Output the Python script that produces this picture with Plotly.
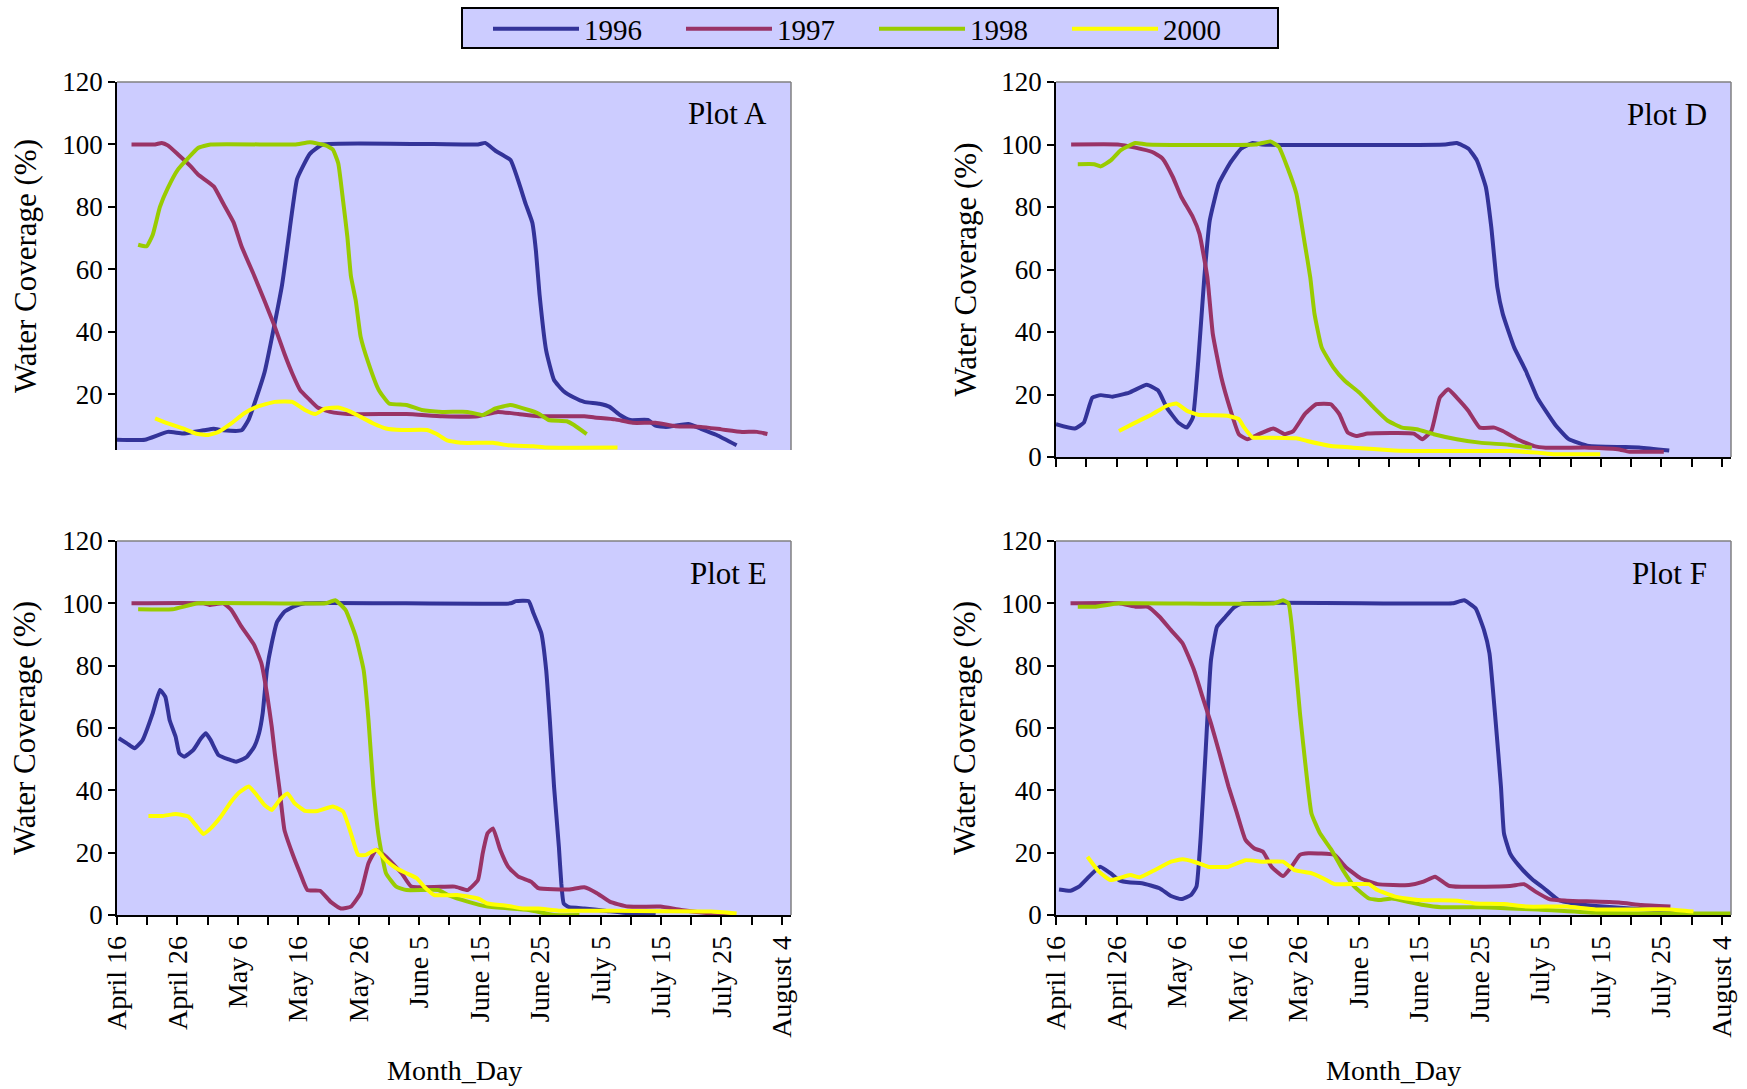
import plotly.graph_objects as go

# ---------------- data (days after April 16, water coverage %) ----------------
tick_days = list(range(0, 115, 5))
tick_labels = ["April 16", "", "April 26", "", "May 6", "", "May 16", "", "May 26", "",
               "June 5", "", "June 15", "", "June 25", "", "July 5", "", "July 15", "",
               "July 25", "", "August 4"]
years = ["1996", "1997", "1998", "2000"]
colors = ["#333399", "#993366", "#99CC00", "#FFFF00"]

# Plot A
A96_d = [0, 4.6, 8.4, 10.9, 14.3, 16, 17.6, 20.6, 21.8, 24.4, 27.3, 29, 29.8, 31.9, 34, 59.7, 60.9, 62.6, 65.1, 67.6, 68.7, 69.3, 69.9, 71, 72.3, 73.9, 75.6, 77.3, 79.8, 81.5, 83.2, 84.9, 87.8, 89.1, 90.8, 94.5, 96.6, 99.2, 102.5]
A96_v = [5.5, 5.5, 8, 7.5, 8.5, 9, 8.5, 8.5, 12, 27, 55, 79, 89, 97, 100, 100, 100.5, 98, 95, 81, 75, 66, 52, 34, 24.6, 21, 19, 17.6, 17, 16, 13.4, 11.8, 11.8, 10, 9.6, 10.5, 9, 7, 3.7]
A97_d = [2.4, 6.3, 7.4, 8.4, 10.1, 12.2, 13.4, 16, 17.6, 19.3, 20.6, 22.7, 24.4, 26.1, 27.7, 29, 30.3, 31.9, 33.2, 35.3, 38.2, 47.9, 53.8, 59.7, 63, 66.4, 69.7, 77.3, 79, 82.4, 85.3, 89.1, 92.4, 96.6, 100, 103.4, 105.9, 107.6]
A97_v = [100, 100, 100.5, 99.7, 96.8, 93, 90.4, 86.6, 81, 75, 67.4, 58, 50, 41.7, 33, 26.7, 21.4, 18.2, 15.8, 14.4, 13.7, 13.7, 13, 13, 14.4, 13.7, 13, 13, 12.6, 12, 10.9, 10.9, 9.8, 9.6, 8.8, 8, 8, 7.3]
A98_d = [3.5, 4.9, 5.9, 7.1, 8.4, 10.1, 11.8, 13.4, 15.5, 29.4, 31.9, 34.5, 35.7, 36.6, 37.4, 38.1, 38.7, 39.5, 40.3, 41.6, 43.3, 45, 47.9, 50.4, 53.8, 58, 60.5, 62.6, 65.1, 68.1, 69.7, 71.4, 74.4, 75.6, 77.7]
A98_v = [67.9, 67.4, 71, 80, 86, 92, 95.7, 98.9, 100, 100, 100.7, 99.7, 98.4, 94, 82, 70.6, 57.8, 50, 38.5, 30, 21.4, 17.1, 16.6, 15, 14.4, 14.4, 13.4, 15.5, 16.6, 15, 13.9, 11.8, 11.4, 10.2, 7.3]
A00_d = [6.3, 8.4, 10.9, 13, 15.1, 16.8, 18.9, 21, 23.1, 26.1, 29, 31.1, 32.8, 34.5, 36.6, 38.7, 40.3, 42.4, 44.5, 47.1, 51.3, 52.9, 54.6, 57.1, 62.2, 64.7, 68.9, 71, 82.8]
A00_v = [12.3, 10.7, 9.1, 7.5, 7, 8, 10.7, 13.9, 16, 17.6, 17.6, 15, 13.7, 15.5, 15.8, 14.4, 12.8, 10.7, 9.1, 8.6, 8.6, 7.3, 5.3, 4.5, 4.5, 3.7, 3.4, 3, 3]

# Plot D
D96_d = [0, 3.1, 4.6, 6, 7.4, 9.3, 12.1, 15, 16.9, 18.3, 20.2, 21.6, 22.6, 23.5, 24.5, 25.4, 26.9, 28.7, 30.6, 32.5, 34, 64.3, 66.2, 68.1, 69.5, 71, 71.9, 72.9, 73.8, 75.7, 77.6, 79.5, 82.4, 84.7, 88, 93.7, 96.6, 101.3]
D96_v = [10.5, 9.1, 11, 19, 19.8, 19.3, 20.6, 23.1, 21.2, 15.8, 11, 9.4, 12.6, 30.8, 57.5, 75.7, 87.5, 93.9, 98.7, 100.5, 100, 100, 100.5, 98.7, 95, 86.4, 73.6, 54.3, 45.8, 35, 27.6, 19, 10.5, 5.7, 3.5, 3.2, 3, 2.1]
D97_d = [2.5, 10.2, 13.1, 15.9, 17.6, 19.3, 20.7, 22.6, 23.7, 25, 25.9, 27.3, 28.7, 30.2, 31.6, 33.5, 35.9, 37.8, 39.2, 41.1, 43, 45.4, 46.8, 48.2, 49.6, 51.5, 59.1, 60.5, 62, 63.4, 64.8, 66.2, 68.1, 70, 72.4, 73.8, 76.2, 79, 80.9, 88, 92.8, 94.7, 100.4]
D97_v = [100, 100, 99, 97.6, 95.5, 89.6, 83.2, 76.8, 71.4, 57.5, 39.4, 25.5, 15.8, 7.3, 5.7, 7.3, 9.1, 7.3, 8.3, 13.7, 16.9, 16.9, 13.7, 7.8, 6.7, 7.5, 7.5, 5.7, 8.3, 19, 21.7, 19, 14.8, 9.4, 9.4, 8.3, 5.7, 3.5, 3, 3, 2.5, 1.7, 1.7]
D98_d = [3.6, 6.3, 7.4, 9.1, 10.7, 13.1, 15, 33, 35.4, 36.8, 38.2, 39.7, 41.1, 42, 42.7, 43.9, 45.8, 47.7, 50.1, 52.5, 54.8, 57.2, 59.6, 62.4, 66.2, 70, 74.8, 78.6]
D98_v = [93.7, 93.7, 93, 95, 98.2, 100.5, 100, 100, 101, 99.3, 92.8, 84.3, 68.2, 57.5, 45.8, 35, 28.7, 24.4, 20.6, 15.8, 11.6, 9.4, 8.9, 7.3, 5.7, 4.6, 3.9, 3]
D00_d = [10.4, 13.1, 15.9, 18.3, 19.9, 21.6, 23.5, 28.3, 30.2, 31.1, 32.5, 34, 39.7, 41.5, 45.4, 49.1, 55.8, 60.5, 74.8, 79.5, 82.4, 89.9]
D00_v = [8.3, 11, 13.7, 16.4, 17.1, 14.8, 13.5, 13.2, 12.1, 9.4, 6.2, 6.2, 6, 5.1, 3.5, 3, 2.1, 1.9, 1.9, 1.4, 0.9, 0.9]

# Plot E
E96_d = [0.3, 1.7, 2.9, 4.2, 5.9, 7.1, 8, 8.7, 9.7, 10.3, 11.1, 12.6, 13.9, 14.7, 15.5, 16.8, 18.5, 19.7, 21.4, 22.7, 23.5, 24.1, 24.8, 25.6, 26.5, 27.7, 29.4, 31.1, 65.1, 66, 68.1, 68.9, 70.2, 71, 71.6, 72.3, 73.1, 73.5, 73.9, 74.8, 77.3, 80.7, 84.9, 89.1]
E96_v = [56.7, 55, 53.5, 56, 64.7, 72.2, 70, 62.6, 57.2, 51.9, 50.8, 52.9, 56.7, 58.3, 56.1, 51.3, 49.9, 49.2, 50.6, 54, 58.3, 64.7, 78.6, 87.2, 94.1, 97.3, 99.1, 100, 100, 100.7, 100.7, 96.8, 90.4, 78.6, 62.6, 41.2, 21.9, 10.2, 3.7, 2.5, 2.1, 1.4, 0.5, 0]
E97_d = [2.4, 14.3, 15.3, 17.6, 18.9, 20.6, 22.7, 23.9, 24.8, 25.6, 26.1, 26.9, 27.7, 29, 30.3, 31.5, 33.6, 35.3, 37, 38.7, 40.3, 41.6, 42.9, 44.5, 47.1, 48.7, 55.9, 58, 59.7, 60.5, 61.3, 62.2, 63.4, 64.7, 66.4, 68.5, 69.7, 74.8, 77.3, 79.4, 81.5, 84.5, 89.9, 93.3, 98.3, 101.7]
E97_v = [100, 100, 99.5, 100, 97.9, 92.5, 86.6, 80.7, 71.1, 60.4, 51.9, 40.1, 27.3, 19.8, 13.4, 8, 7.8, 4.3, 2.1, 2.7, 7, 16.6, 20.9, 18.7, 13.4, 9.1, 9.1, 8, 11.2, 19.8, 26.2, 27.8, 20.9, 15.5, 12.3, 10.7, 8.6, 8.2, 8.9, 7, 4.3, 2.7, 2.7, 1.6, 0.5, 0.2]
E98_d = [3.5, 9.2, 13.4, 34.5, 36.1, 37.8, 39.5, 40.8, 41.6, 42.4, 43.3, 44.5, 46.2, 47.9, 53.1, 54.8, 58, 61.3, 68.1, 72.3, 76.5]
E98_v = [98.1, 98.1, 100, 100, 101, 97.9, 89.3, 78.6, 62.6, 41.2, 25.1, 13.4, 9.1, 8, 8, 6.4, 4.3, 2.7, 1.6, 0, 0]
E00_d = [5.2, 7.6, 9.7, 11.8, 13, 14.3, 15.5, 17.2, 18.9, 20.2, 21.8, 23.1, 24.4, 25.6, 26.9, 28.2, 29.4, 31.1, 33.2, 35.7, 37.4, 38.7, 39.9, 41.2, 42.9, 44.5, 46.2, 47.9, 49.6, 50.8, 52.5, 56.3, 59.7, 61.3, 64.7, 67.2, 69.7, 73.1, 81.5, 89.9, 98.3, 102.5]
E00_v = [31.8, 31.8, 32.4, 31.6, 28.9, 26, 27.8, 31.6, 36.4, 39.3, 41.2, 38.5, 35.3, 33.7, 36.9, 39, 35.8, 33.4, 33.4, 34.8, 33.2, 26.2, 19.3, 19.3, 20.9, 17.6, 15, 13.4, 11.8, 9.1, 6.4, 6.4, 5.3, 3.7, 2.9, 2.1, 2.1, 1.4, 1.4, 1.2, 1.1, 0.5]

# Plot F
F96_d = [0.5, 2.4, 3.8, 5.7, 7.3, 9, 10.4, 12.3, 14.2, 17.1, 19, 20.7, 22.3, 23.2, 23.9, 24.7, 25.6, 26.6, 28, 29.4, 30.8, 65.5, 67.4, 69.3, 70.7, 71.6, 72.6, 73.5, 74, 75, 76.4, 78.7, 80.6, 83, 85.4, 89.2, 94.9, 98.7, 103.4]
F96_v = [8.2, 7.8, 9.1, 12.8, 15.5, 13.4, 11.2, 10.4, 10.2, 8.6, 6.1, 5.1, 6.4, 9.1, 25.1, 51.9, 81.8, 92.5, 95.7, 98.7, 100, 100, 101, 98.4, 91.4, 84, 62.6, 41.2, 26.2, 19.8, 16, 11.4, 8.6, 4.8, 3.7, 2.9, 2.1, 1.6, 1.1]
F97_d = [2.4, 10.4, 13.3, 15.2, 17.1, 19, 20.9, 22.8, 24.2, 25.6, 27, 28.5, 29.9, 31.3, 32.7, 34.2, 35.6, 37.5, 38.9, 40.3, 41.7, 46, 47.8, 50.3, 53.1, 58.3, 60.7, 62.6, 65, 75, 77.3, 79.2, 81.6, 84.4, 93, 96.7, 101.5]
F97_v = [100, 100, 98.9, 98.9, 95.7, 91.4, 87.2, 78.6, 70, 61.5, 51.9, 41.2, 32.6, 24.1, 21.4, 20.3, 15.5, 12.5, 15.5, 19.3, 19.8, 19.3, 15.5, 11.8, 9.9, 9.6, 10.7, 12.3, 9.3, 9.3, 9.9, 7.5, 5, 4.6, 4, 3.2, 2.7]
F98_d = [3.6, 6.6, 10.4, 36.1, 37.5, 38.4, 39.4, 40.3, 41.3, 42.2, 43.6, 45.5, 47.4, 49.3, 51.7, 53.6, 55.5, 57.9, 60.7, 63.6, 70.2, 75, 79.7, 89.2, 98.7, 111.5]
F98_v = [98.9, 98.9, 100, 100, 101, 100, 84, 64.7, 46.5, 32.6, 26.2, 20.9, 14.4, 9.1, 5.3, 4.8, 5.3, 4.3, 3.2, 2.5, 2.5, 2.1, 1.8, 0.7, 0.5, 0.5]
F00_d = [5.2, 7.1, 9, 10.4, 12.3, 13.8, 16.1, 19, 20.9, 22.8, 25.1, 28.5, 31.3, 34.2, 37.5, 39.4, 42.2, 44.1, 46, 51.7, 53.1, 56, 59.8, 66.4, 69.3, 74, 77.8, 84.4, 89.2, 101.5, 105.3]
F00_v = [18.7, 13.9, 11.2, 11.8, 12.8, 12.1, 14.2, 17.1, 17.9, 17.1, 15.5, 15.5, 17.6, 17.1, 17.1, 14.4, 13.4, 11.8, 9.9, 9.9, 8, 5.9, 4.8, 4.6, 3.7, 3.5, 2.7, 2.7, 1.8, 1.8, 1.1]

plots = [
    ("Plot A", [(A96_d, A96_v), (A97_d, A97_v), (A98_d, A98_v), (A00_d, A00_v)]),
    ("Plot D", [(D96_d, D96_v), (D97_d, D97_v), (D98_d, D98_v), (D00_d, D00_v)]),
    ("Plot E", [(E96_d, E96_v), (E97_d, E97_v), (E98_d, E98_v), (E00_d, E00_v)]),
    ("Plot F", [(F96_d, F96_v), (F97_d, F97_v), (F98_d, F98_v), (F00_d, F00_v)]),
]

# ---------------- layout ----------------
W, H = 1747, 1089
FONT = "Liberation Serif, Times New Roman, serif"
BG = "#CCCCFF"

def px_x(a, b):
    return [a / W, b / W]

def px_y(top, bottom):
    return [1 - bottom / H, 1 - top / H]

# (x domain, y domain, y range, show x ticks, show x labels, y-title x pixel)
domains = [
    (px_x(117, 791), px_y(82, 450), [2.2, 120], False, False, 25),
    (px_x(1056, 1731), px_y(82, 457), [0, 120], True, False, 965),
    (px_x(117, 791), px_y(541, 915), [0, 120], True, True, 25),
    (px_x(1056, 1731), px_y(541, 915), [0, 120], True, True, 965),
]

fig = go.Figure()
layout = dict(
    width=W, height=H,
    margin=dict(l=0, r=0, t=0, b=0, autoexpand=False),
    paper_bgcolor="white",
    font=dict(family=FONT, color="black", size=24),
    showlegend=True,
    legend=dict(
        orientation="h", x=488 / W, xanchor="left", y=1 - 29 / H, yanchor="middle",
        bgcolor="rgba(0,0,0,0)", borderwidth=0,
        font=dict(family=FONT, size=29, color="black"),
        entrywidth=92, entrywidthmode="pixels",
        itemwidth=86,
    ),
)
# legend frame
shapes = [dict(type="rect", xref="paper", yref="paper",
               x0=462 / W, x1=1278 / W, y0=1 - 48 / H, y1=1 - 8 / H,
               fillcolor=BG, line=dict(color="black", width=2), layer="below")]
annotations = []

for i, (label, series) in enumerate(plots):
    n = "" if i == 0 else str(i + 1)
    xdom, ydom, yr, show_ticks, show_labels, ytx = domains[i]
    for j, (d, v) in enumerate(series):
        fig.add_trace(go.Scatter(
            x=d, y=v, mode="lines", name=years[j],
            line=dict(color=colors[j], width=4, shape="spline", smoothing=0.4),
            xaxis="x" + n, yaxis="y" + n,
            showlegend=(i == 0), hoverinfo="skip",
        ))
    xa = dict(
        domain=xdom, anchor="y" + n, range=[0, 111.5], automargin=False,
        tickmode="array", tickvals=tick_days,
        ticktext=tick_labels if show_labels else [""] * len(tick_days),
        tickangle=-90, ticks="outside" if show_ticks else "", ticklen=8, tickwidth=1.5,
        tickcolor="black", showgrid=False, zeroline=False,
        showline=show_ticks, linecolor="black", linewidth=1.5,
        tickfont=dict(family=FONT, size=28, color="black"),
        showticklabels=True,
    )
    ya = dict(
        domain=ydom, anchor="x" + n, range=yr, automargin=False,
        tickmode="array", tickvals=[0, 20, 40, 60, 80, 100, 120] if i else [20, 40, 60, 80, 100, 120],
        ticks="outside", ticklen=7, tickwidth=1.5, tickcolor="black",
        showgrid=False, zeroline=False,
        showline=True, linecolor="black", linewidth=1.5,
        tickfont=dict(family=FONT, size=27, color="black"),
    )
    layout["xaxis" + n] = xa
    layout["yaxis" + n] = ya
    xref = "x" + n + " domain"
    yref = "y" + n + " domain"
    shapes.append(dict(type="line", xref=xref, yref=yref, x0=0, x1=1, y0=1, y1=1,
                       line=dict(color="#808080", width=1.5), layer="above"))
    shapes.append(dict(type="line", xref=xref, yref=yref, x0=1, x1=1, y0=0, y1=1,
                       line=dict(color="#808080", width=1.5), layer="above"))
    annotations.append(dict(text=label, xref=xref, yref=yref, x=0.967, y=0.914,
                            xanchor="right", yanchor="middle", showarrow=False,
                            font=dict(family=FONT, size=31, color="black")))
    # axis titles
    annotations.append(dict(text="Water Coverage (%)", xref="paper", yref="paper",
                            x=ytx / W, y=(ydom[0] + ydom[1]) / 2, textangle=-90,
                            xanchor="center", yanchor="middle", showarrow=False,
                            font=dict(family=FONT, size=31, color="black")))
    if show_labels:
        annotations.append(dict(text="Month_Day", xref="paper", yref="paper",
                                x=(xdom[0] + xdom[1]) / 2, y=1 - 1070 / H,
                                xanchor="center", yanchor="middle", showarrow=False,
                                font=dict(family=FONT, size=28, color="black")))

layout["plot_bgcolor"] = BG
layout["shapes"] = shapes
layout["annotations"] = annotations
fig.update_layout(**layout)
fig.write_html("out.html")
